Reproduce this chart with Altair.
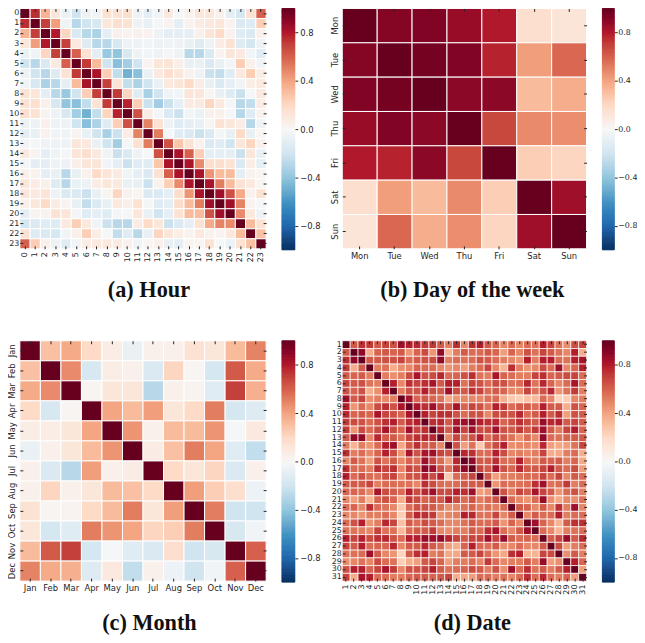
import altair as alt
import numpy as np
import pandas as pd

HOURS = [str(i) for i in range(24)]
DAYS = ["Mon", "Tue", "Wed", "Thu", "Fri", "Sat", "Sun"]
MONTHS = ["Jan", "Feb", "Mar", "Apr", "May", "Jun", "Jul", "Aug", "Sep", "Oct", "Nov", "Dec"]
DATES = [str(i) for i in range(1, 32)]

# Upper triangles (above the diagonal) of the symmetric correlation matrices
HOUR_UPPER = [
    [.75, .35, .12, -.07, -.2, -.05, -.03, .15, .15, .17, -.05, -.1, -.03, .1, -.02, .05, .12, .12, .05, -.1, -.18, .15, .6],
    [.7, .42, -.04, -.28, -.2, -.17, .12, .17, .15, -.05, -.08, -.02, .03, -.1, .04, .08, .1, .12, .03, -.15, -.13, .25],
    [.8, .22, -.15, -.28, -.32, -.1, .05, .03, .05, .04, -.05, -.1, -.1, -.1, .05, .13, .2, .04, -.12, -.15, .05],
    [.7, .1, -.13, -.28, -.28, -.17, -.06, -.06, -.03, -.06, -.04, -.05, -.08, -.13, -.05, .08, .15, -.13, -.18, -.05],
    [.6, .15, -.1, -.38, -.4, -.17, -.05, -.03, -.06, -.02, -.05, -.28, -.28, -.15, .03, .13, .1, -.03, -.12],
    [.72, .32, -.2, -.42, -.35, -.2, .03, .12, .13, .06, -.08, -.07, -.15, -.08, -.02, .25, .05, -.03],
    [.82, .25, -.25, -.48, -.42, -.07, .1, .17, .12, .04, -.05, -.22, -.25, -.12, .1, .25, .07],
    [.7, .14, -.25, -.32, -.2, -.07, .1, .13, .2, .08, -.08, -.15, -.1, -.03, .07, .1],
    [.72, .22, -.12, -.33, -.2, -.04, -.03, .13, .12, .02, -.08, -.13, -.22, -.01, .1],
    [.78, .25, -.22, -.35, -.22, -.1, .09, .1, .22, .1, -.02, -.28, -.25, .08],
    [.65, .08, -.02, -.15, -.22, -.03, -.07, .05, .05, -.01, -.28, -.12, .04],
    [.5, .15, -.05, -.12, -.1, -.08, .02, .15, .12, .08, -.28, -.04],
    [.52, -.01, -.12, -.15, -.22, -.15, -.02, -.08, .2, -.08, .02],
    [.65, .28, .15, .04, -.15, -.12, -.2, .12, .22, .05],
    [.82, .6, .25, -.1, -.1, -.1, -.22, .12, -.08],
    [.82, .48, .18, .18, .15, -.15, .07, -.1],
    [.82, .45, .32, .32, -.1, .04, .02],
    [.82, .52, .32, .15, .1, .02],
    [.85, .65, .38, .04, .15],
    [.85, .5, .03, -.01],
    [.48, .1, -.06],
    [.32, .15],
    [.3],
]
DAY_UPPER = [
    [.92, .93, .87, .8, .17, .13],
    [.96, .93, .78, .42, .58],
    [.9, .9, .32, .37],
    [.68, .48, .47],
    [.25, .22],
    [.85],
]
MONTH_UPPER = [
    [.3, .38, .2, .07, -.07, .05, .05, .15, .12, .32, .5],
    [.48, -.17, .07, .05, -.15, .22, .02, -.18, .62, .38],
    [.02, .12, .12, -.28, .05, .03, -.12, .7, .36],
    [.4, .32, .42, .12, .2, .52, -.18, -.13],
    [.45, .05, .32, .32, .45, -.01, .1],
    [.08, .3, .52, .4, -.12, -.25],
    [.2, .12, .22, -.15, .05],
    [.42, .25, .17, -.06],
    [.52, -.2, -.2],
    [-.17, -.03],
    [.6],
]
DATE_UPPER = [
    [.62, .75, .72, .62, .69, .65, .85, .79, .77, .72, .72, .62, .52, .75, .49, .75, .79, .62, .59, .49, .57, .49, .57, .55, .79, .69, .55, .47, .65, .69],
    [.89, .37, .59, .62, .59, .62, .45, .59, .67, .45, .89, .35, .52, .62, .57, .57, .62, .59, .42, .59, .49, .65, .55, .69, .62, .55, .49, .79, .37],
    [.62, .62, .65, .65, .69, .57, .62, .65, .67, .89, .52, .57, .55, .57, .65, .62, .57, .52, .49, .45, .79, .52, .79, .79, .57, .55, .79, .82],
    [.52, .55, .37, .47, .49, .59, .57, .57, .49, .45, .49, .42, .52, .57, .69, .49, .35, .75, .52, .45, .49, .67, .57, .85, .49, .59, .79],
    [.52, .47, .52, .67, .82, .65, .67, .77, .57, .59, .65, .75, .55, .52, .82, .59, .57, .52, .52, .69, .75, .59, .62, .67, .69, .57],
    [.79, .49, .75, .69, .75, .82, .62, .79, .79, .55, .69, .65, .57, .67, .65, .55, .57, .77, .55, .77, .59, .49, .57, .82, .57],
    [.52, .65, .65, .79, .67, .62, .85, .67, .62, .75, .69, .57, .62, .59, .49, .49, .69, .55, .65, .77, .45, .55, .72, .52],
    [.82, .59, .62, .59, .55, .39, .45, .49, .49, .49, .55, .57, .37, .27, .25, .3, .33, .57, .49, .22, .25, .49, .52],
    [.82, .75, .85, .69, .62, .82, .59, .69, .65, .55, .79, .72, .57, .62, .62, .57, .79, .62, .62, .37, .65, .59],
    [.79, .69, .75, .75, .65, .57, .65, .65, .49, .67, .67, .65, .77, .57, .62, .79, .62, .75, .42, .65, .62],
    [.75, .77, .62, .82, .85, .9, .79, .75, .77, .59, .65, .75, .67, .62, .87, .77, .79, .62, .69, .62],
    [.77, .62, .85, .69, .85, .67, .67, .85, .65, .62, .72, .62, .72, .85, .62, .52, .69, .79, .59],
    [.49, .69, .57, .65, .79, .57, .67, .62, .55, .45, .57, .49, .89, .57, .55, .59, .62, .62],
    [.65, .42, .55, .27, .55, .67, .79, .47, .49, .49, .47, .77, .42, .39, .42, .55, .69],
    [.77, .75, .57, .57, .79, .67, .49, .52, .49, .52, .69, .37, .39, .52, .57, .37],
    [.89, .62, .62, .75, .57, .55, .79, .55, .52, .62, .59, .62, .52, .59, .39],
    [.69, .62, .85, .65, .59, .77, .62, .62, .69, .79, .62, .57, .67, .42],
    [.62, .42, .52, .52, .55, .57, .57, .69, .57, .69, .49, .62, .57],
    [.45, .57, .55, .55, .57, .75, .85, .55, .57, .72, .52, .57],
    [.65, .52, .69, .62, .82, .69, .62, .45, .57, .65, .52],
    [.57, .49, .45, .57, .87, .47, .39, .49, .47, .55],
    [.62, .59, .49, .62, .49, .75, .52, .85, .49],
    [.49, .62, .57, .57, .79, .52, .57, .57],
    [.85, .59, .49, .35, .62, .75, .75],
    [.57, .49, .35, .52, .55, .57],
    [.62, .69, .87, .62, .77],
    [.67, .42, .52, .57],
    [.47, .62, .52],
    [.79, .59],
    [.42],
]

CMAP_STOPS = [-1, -.8, -.6, -.4, -.2, 0, .2, .4, .6, .8, 1]
CMAP_COLORS = ["#053061", "#2166ac", "#4393c3", "#92c5de", "#d1e5f0", "#f7f7f7",
               "#fddbc7", "#f4a582", "#d6604d", "#b2182b", "#67001f"]
CBAR_TICKS = [-.8, -.4, 0, .4, .8]

TEXT = "#262626"
SANS = "DejaVu Sans"
SERIF = "Liberation Serif"
scale = alt.Scale(domain=CMAP_STOPS, range=CMAP_COLORS)


def long_form(labels, upper):
    rows = []
    n = len(labels)
    for i, a in enumerate(labels):
        rows.append((a, a, 1.0))
        tail = upper[i] if i < len(upper) else []
        assert len(tail) == n - 1 - i, (a, len(tail))
        for k, v in enumerate(tail):
            b = labels[i + 1 + k]
            rows.append((a, b, v))
            rows.append((b, a, v))
    return pd.DataFrame(rows, columns=["row", "col", "r"])


def heat(labels, upper, title, dx, xangle, yangle, w=249, h=243, fs=8.5, pad=3, line=1):
    df = long_form(labels, upper)
    common = dict(domain=False, grid=False, title=None, tickSize=3, offset=-3,
                  tickColor=TEXT, tickWidth=1)
    main = alt.Chart(df).mark_rect(stroke="white", strokeWidth=line).encode(
        x=alt.X("col:N", sort=labels, scale=alt.Scale(paddingInner=0, paddingOuter=0),
                axis=alt.Axis(orient="bottom", labelAngle=xangle, labelFontSize=fs, labelFont=SANS,
                              labelColor=TEXT, labelPadding=3, minExtent=22, maxExtent=22, **common)),
        y=alt.Y("row:N", sort=labels, scale=alt.Scale(paddingInner=0, paddingOuter=0),
                axis=alt.Axis(orient="left", labelAngle=yangle, labelFontSize=fs, labelFont=SANS,
                              labelColor=TEXT, labelPadding=pad, minExtent=10, maxExtent=10, **common)),
        color=alt.Color("r:Q", scale=scale, legend=None),
    )
    frame = alt.Chart(df).mark_rect(opacity=0).encode(
        x=alt.X("col:N", sort=labels, axis=alt.Axis(orient="top", labels=False, minExtent=0, maxExtent=0, **common)),
        y=alt.Y("row:N", sort=labels, axis=alt.Axis(orient="right", labels=False, minExtent=0, maxExtent=0, **common)),
    )
    return (main + frame).resolve_axis(x="independent", y="independent").properties(
        width=w, height=h,
        title=alt.TitleParams(title, orient="bottom", font=SERIF, fontWeight="bold", fontSize=22.5,
                              color="#111111", dx=dx, offset=12, anchor="middle"),
    )


def cbar(cell_w, bar_w=13, fs=8.5, pad=2, h=244):
    edges = np.linspace(-1, 1, 201)
    df = pd.DataFrame({"lo": edges[:-1], "hi": edges[1:], "mid": (edges[:-1] + edges[1:]) / 2})
    return alt.Chart(df).mark_rect().encode(
        x=alt.value(0), x2=alt.value(bar_w),
        y=alt.Y("lo:Q", scale=alt.Scale(domain=[-1, 1], nice=False),
                axis=alt.Axis(orient="right", offset=bar_w - cell_w, values=CBAR_TICKS, format=".1f", domain=False,
                              grid=False, title=None, tickSize=3, tickColor=TEXT, labelFontSize=fs,
                              labelFont=SANS, labelColor=TEXT, labelPadding=pad, minExtent=20, maxExtent=20)),
        y2="hi:Q",
        color=alt.Color("mid:Q", scale=scale, legend=None),
        stroke=alt.Stroke("mid:Q", scale=scale, legend=None),
    ).properties(width=cell_w, height=h)


chart = alt.concat(
    heat(HOURS, HOUR_UPPER, "(a) Hour", 6, 270, 0, fs=8, pad=1),
    cbar(45),
    heat(DAYS, DAY_UPPER, "(b) Day of the week", 8, 0, 270, w=247),
    cbar(12, bar_w=12, fs=8, pad=0.5),
    heat(MONTHS, MONTH_UPPER, "(c) Month", 6.5, 0, 270),
    cbar(45),
    heat(DATES, DATE_UPPER, "(d) Date", 8, 270, 0, w=247, fs=8, pad=1, line=0.7),
    cbar(12, bar_w=12, fs=8, pad=0.5),
    columns=4,
    bounds="flush",
    spacing=alt.RowColnumber(column=16, row=92),
).properties(padding={"top": -4, "left": 0, "right": 0, "bottom": -3}).configure_view(stroke=None)

chart.save("out.html", embed_options={"renderer": "svg", "actions": False})
